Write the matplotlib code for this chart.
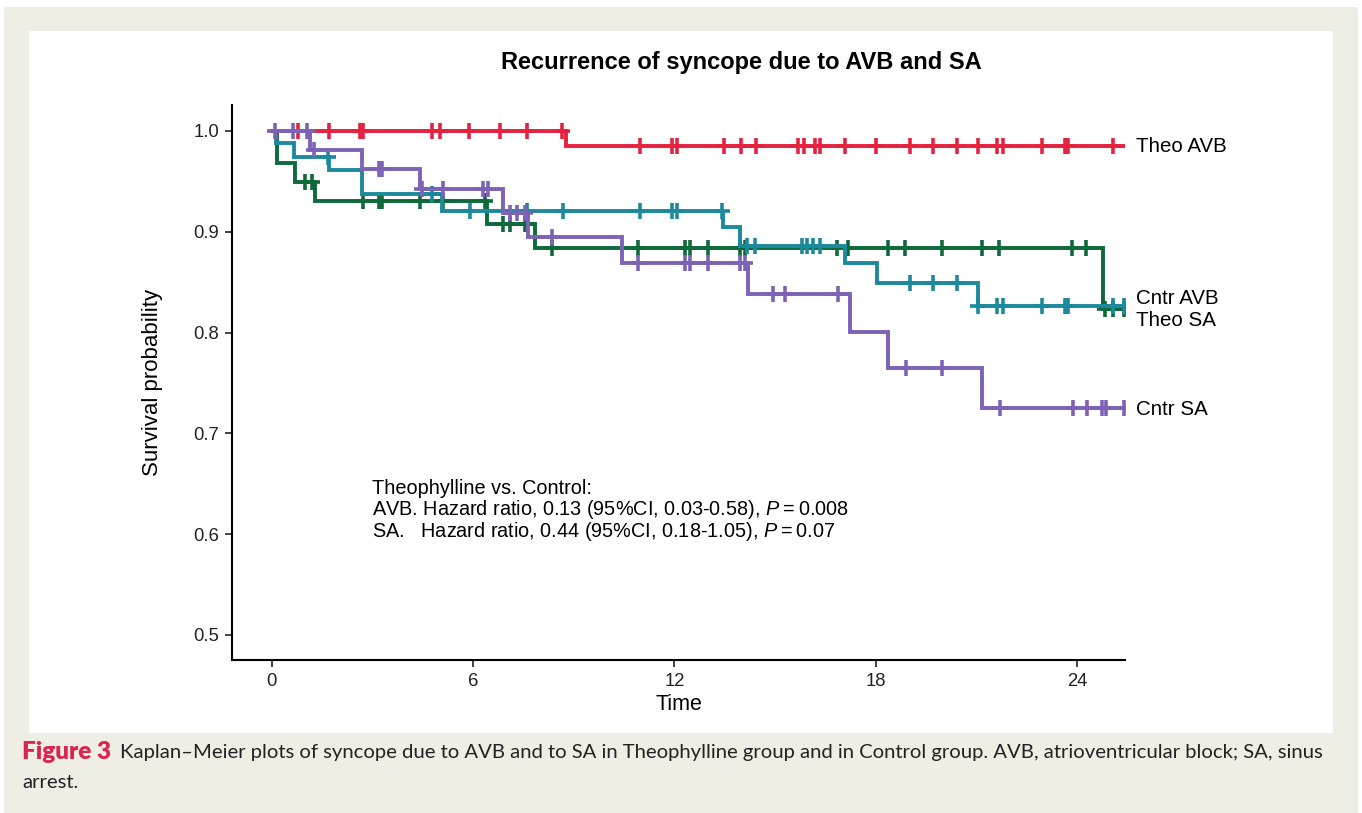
import numpy as np
import matplotlib
matplotlib.use("Agg")
import matplotlib.pyplot as plt
from matplotlib.patches import Rectangle

plt.rcParams['font.family'] = ['Liberation Sans', 'DejaVu Sans']
plt.rcParams['mathtext.fontset'] = 'custom'
plt.rcParams['mathtext.it'] = 'Liberation Sans:italic'
plt.rcParams['mathtext.rm'] = 'Liberation Sans'

# Kaplan-Meier curves: step times, survival after step, censor times
theo_avb_t = [0, 8.77]
theo_avb_s = [1.0, 0.985]
theo_avb_c = [0.78, 1.70, 2.62, 2.71, 4.77, 5.0, 5.87, 6.8, 7.6, 8.65, 10.97, 11.93, 12.08,
              13.48, 13.98, 14.43, 15.68, 15.86, 16.19, 16.34, 17.08, 18.0, 19.02, 19.71,
              20.42, 21.05, 21.62, 21.8, 22.96, 23.64, 23.73, 25.07]

cntr_avb_t = [0, 0.12, 0.66, 1.70, 2.68, 5.07, 13.45, 13.95, 17.08, 18.04, 21.05]
cntr_avb_s = [1.0, 0.988, 0.974, 0.961, 0.937, 0.921, 0.905, 0.886, 0.869, 0.849, 0.826]
cntr_avb_c = [1.67, 4.77, 5.90, 7.60, 8.68, 10.97, 11.93, 12.08, 13.42, 14.16, 14.40, 15.80,
              15.95, 16.13, 16.34, 19.02, 19.71, 20.42, 21.05, 21.62, 21.80, 22.96, 23.64,
              23.73, 25.07, 25.40]

theo_sa_t = [0, 0.15, 0.69, 1.28, 6.41, 7.84, 24.78]
theo_sa_s = [1.0, 0.968, 0.949, 0.931, 0.908, 0.884, 0.823]
theo_sa_c = [0.98, 1.19, 2.71, 3.19, 3.28, 4.41, 5.10, 6.35, 6.89, 7.10, 7.54, 8.35, 10.91,
             12.31, 12.46, 13.0, 13.95, 14.10, 16.85, 17.17, 18.37, 18.87, 19.98, 21.17,
             21.68, 23.85, 24.27, 24.84, 25.07, 25.40]

cntr_sa_t = [0, 1.13, 2.68, 4.41, 6.89, 7.63, 10.44, 14.19, 17.23, 18.37, 21.17]
cntr_sa_s = [1.0, 0.981, 0.962, 0.942, 0.919, 0.895, 0.869, 0.838, 0.801, 0.765, 0.725]
cntr_sa_c = [0.09, 0.63, 1.04, 1.25, 3.19, 3.28, 4.47, 5.10, 6.29, 6.44, 7.10, 7.30, 7.54,
             8.35, 10.91, 12.31, 12.46, 13.0, 13.95, 14.10, 14.94, 15.30, 16.88, 18.90,
             19.98, 21.71, 23.88, 24.30, 24.75, 24.87, 25.40]

t_end = 25.43
curve_names = ['Theo AVB', 'Cntr AVB', 'Theo SA', 'Cntr SA']
curve_cols = ['#E5223F', '#1C8A9C', '#0E6A3A', '#7D63B6']
label_y = [0.985, 0.834, 0.812, 0.724]

fig = plt.figure(figsize=(13.62, 8.13), dpi=100)
W, H = 1362, 813
# page background and white panel
fig.patches.append(Rectangle((4 / W, 0), 1354 / W, 806 / H, transform=fig.transFigure,
                             facecolor='#EFEEE4', edgecolor='none', zorder=-2))
fig.patches.append(Rectangle((29 / W, 1 - 733 / H), 1304 / W, 702 / H, transform=fig.transFigure,
                             facecolor='white', edgecolor='none', zorder=-1))

ax = fig.add_axes([232 / W, 1 - 660 / H, 893 / W, 555 / H])
ax.patch.set_alpha(0)

curves = [(theo_avb_t, theo_avb_s, theo_avb_c), (cntr_avb_t, cntr_avb_s, cntr_avb_c),
          (theo_sa_t, theo_sa_s, theo_sa_c), (cntr_sa_t, cntr_sa_s, cntr_sa_c)]
zo = [4, 3, 2, 5]
for (ts, ss, cs), col, z in zip(curves, curve_cols, zo):
    ax.step(ts + [t_end], ss + [ss[-1]], where='post', color=col, lw=2.8, zorder=z,
            solid_joinstyle='miter')
    idx = np.searchsorted(ts, cs, side='right') - 1
    cy = np.array(ss)[idx]
    ax.plot(cs, cy, ls='none', marker='+', ms=11, mew=2.6, color=col, zorder=z)

for name, col, ly in zip(curve_names, curve_cols, label_y):
    ax.text(25.75, ly, name, fontsize=14.8, color='black', va='center', ha='left', clip_on=False)

ax.text(2.98, 0.645, 'Theophylline vs. Control:', fontsize=14.3, va='center')
ax.text(2.98, 0.624, 'AVB. Hazard ratio, 0.13 (95%CI, 0.03-0.58), $P$\u2009=\u20090.008',
        fontsize=14.3, va='center')
ax.text(2.98, 0.603, 'SA.   Hazard ratio, 0.44 (95%CI, 0.18-1.05), $P$\u2009=\u20090.07',
        fontsize=14.3, va='center')

ax.set_xlim(-1.19, 25.43)
ax.set_ylim(0.475, 1.0258)
ax.set_xticks([0, 6, 12, 18, 24])
ax.set_yticks([0.5, 0.6, 0.7, 0.8, 0.9, 1.0])
ax.set_yticklabels(['0.5', '0.6', '0.7', '0.8', '0.9', '1.0'])
for s in ['top', 'right']:
    ax.spines[s].set_visible(False)
for s in ['left', 'bottom']:
    ax.spines[s].set_linewidth(1.5)
ax.tick_params(labelsize=13.3, length=5, width=1.2, pad=4, colors='#222222')
ax.set_xlabel('Time', fontsize=15.5, labelpad=3)
ax.set_ylabel('Survival probability', fontsize=16, labelpad=22)

fig.text(741 / W, 1 - 62 / H, 'Recurrence of syncope due to AVB and SA', fontsize=17,
         fontweight='bold', ha='center', va='center')

# caption
cap_font = ['Lato', 'DejaVu Sans']
t1 = fig.text(22 / W, 1 - 752 / H, 'Figure 3', fontsize=17.5, fontweight='heavy',
              color='#D9254F', family=cap_font, va='center')
fig.canvas.draw()
bb = t1.get_window_extent()
fig.text((bb.x1 + 9) / W, 1 - 752 / H,
         'Kaplan\u2013Meier plots of syncope due to AVB and to SA in Theophylline group and in '
         'Control group. AVB, atrioventricular block; SA, sinus',
         fontsize=14.6, family=cap_font, color='#222222', va='center')
fig.text(22 / W, 1 - 782 / H, 'arrest.', fontsize=14.6, family=cap_font, color='#222222', va='center')

fig.savefig('out.png', dpi=100)
